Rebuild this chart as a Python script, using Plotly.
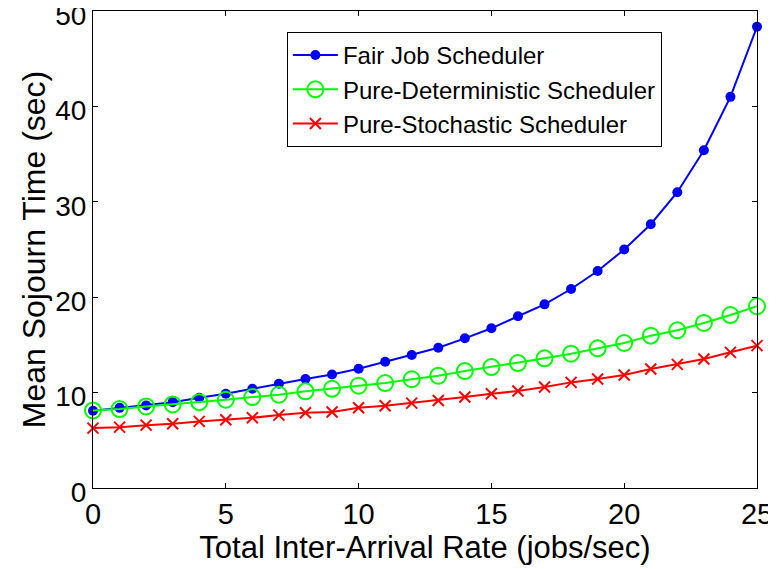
import plotly.graph_objects as go

rate = list(range(26))

fair_job = [8.1, 8.4, 8.66, 9.0, 9.46, 9.88, 10.4, 10.93, 11.42, 11.9, 12.5, 13.24, 13.94,
            14.71, 15.69, 16.74, 18.0, 19.25, 20.86, 22.75, 25.0, 27.65, 31.0, 35.4, 41.0, 48.35]
pure_det = [8.13, 8.27, 8.55, 8.76, 9.0, 9.25, 9.53, 9.78, 10.13, 10.4, 10.72, 11.0, 11.4,
            11.77, 12.26, 12.68, 13.1, 13.59, 14.08, 14.64, 15.2, 15.97, 16.53, 17.3, 18.13, 19.05]
pure_sto = [6.28, 6.38, 6.59, 6.73, 6.98, 7.15, 7.36, 7.64, 7.89, 7.96, 8.41, 8.62, 8.9,
            9.18, 9.53, 9.88, 10.16, 10.58, 11.07, 11.42, 11.84, 12.47, 12.96, 13.52, 14.22, 14.92]

font = "Arial, Liberation Sans, sans-serif"

fig = go.Figure()
fig.add_trace(go.Scatter(x=rate, y=fair_job, name="Fair Job Scheduler", mode="lines+markers",
                         line=dict(color="#0000FF", width=2),
                         marker=dict(symbol="circle", size=10, color="#0000FF"),
                         cliponaxis=False))
fig.add_trace(go.Scatter(x=rate, y=pure_det, name="Pure-Deterministic Scheduler", mode="lines+markers",
                         line=dict(color="#00FF00", width=2),
                         marker=dict(symbol="circle-open", size=16, color="#00FF00", line=dict(width=2)),
                         cliponaxis=False))
fig.add_trace(go.Scatter(x=rate, y=pure_sto, name="Pure-Stochastic Scheduler", mode="lines+markers",
                         line=dict(color="#FF0000", width=2),
                         marker=dict(symbol="x-thin-open", size=11, color="#FF0000", line=dict(width=2)),
                         cliponaxis=False))

axis_common = dict(showgrid=False, zeroline=False, showline=True, linecolor="black", linewidth=1,
                   mirror="ticks", ticks="inside", ticklen=5, tickcolor="black",
                   automargin=False, ticklabeloverflow="allow")

# page body adds an 8px margin, so the figure is drawn 8px smaller
fig.update_layout(
    width=768, height=561,
    margin=dict(l=85, r=19, t=3, b=81),
    paper_bgcolor="white", plot_bgcolor="white",
    font=dict(family=font, color="black"),
    xaxis=dict(range=[0, 25], tickvals=[0, 5, 10, 15, 20, 25],
               tickfont=dict(family=font, size=29, color="black"),
               title=dict(text="Total Inter-Arrival Rate (jobs/sec)", font=dict(size=31), standoff=2),
               **axis_common),
    yaxis=dict(range=[0, 50], tickvals=[0, 10, 20, 30, 40, 50], ticklabelshift=4,
               tickfont=dict(family=font, size=28, color="black"),
               title=dict(text="Mean Sojourn Time (sec)", font=dict(size=32), standoff=0),
               **axis_common),
    legend=dict(x=0.292, y=0.956, xanchor="left", yanchor="top", itemwidth=45,
                bgcolor="white", bordercolor="black", borderwidth=1,
                font=dict(family=font, size=24, color="black")),
)

fig.write_html("out.html")
